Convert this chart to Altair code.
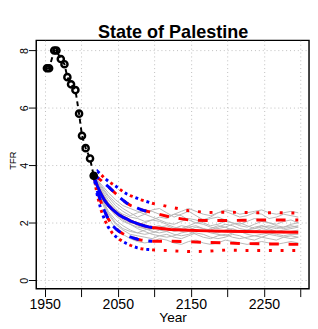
import altair as alt
import pandas as pd

# ---------------- data ----------------
title_text = "State of Palestine"

obs_years = [1953, 1956, 1963, 1966, 1972, 1977, 1981, 1986, 1992, 1997, 2001, 2006, 2012, 2017]
obs_tfr = [7.38, 7.38, 8.0, 8.0, 7.7, 7.52, 7.07, 6.82, 6.62, 5.8, 5.03, 4.6, 4.24, 3.64]

proj_years = [2017, 2022, 2027, 2032, 2037, 2042, 2047, 2052, 2057, 2062, 2067, 2072, 2077,
              2082, 2087, 2092, 2097, 2122, 2147, 2172, 2197, 2222, 2247, 2272, 2297]
median = [3.64, 3.28, 3.00, 2.78, 2.61, 2.48, 2.37, 2.27, 2.20, 2.14, 2.07, 2.02, 1.97,
          1.93, 1.89, 1.86, 1.84, 1.77, 1.74, 1.72, 1.71, 1.70, 1.69, 1.68, 1.67]
upper80 = [3.64, 3.58, 3.48, 3.37, 3.26, 3.14, 3.02, 2.90, 2.79, 2.69, 2.61, 2.56, 2.51,
           2.46, 2.42, 2.39, 2.36, 2.20, 2.10, 2.08, 2.08, 2.09, 2.10, 2.10, 2.10]
lower80 = [3.64, 3.10, 2.72, 2.40, 2.13, 1.93, 1.80, 1.70, 1.62, 1.56, 1.51, 1.47, 1.43,
           1.40, 1.38, 1.37, 1.36, 1.36, 1.34, 1.32, 1.30, 1.28, 1.27, 1.26, 1.25]
upper95 = [3.64, 3.80, 3.68, 3.55, 3.45, 3.36, 3.28, 3.18, 3.09, 3.01, 2.95, 2.90, 2.85,
           2.80, 2.76, 2.72, 2.68, 2.55, 2.42, 2.36, 2.37, 2.36, 2.35, 2.35, 2.34]
lower95 = [3.64, 2.95, 2.45, 2.10, 1.85, 1.66, 1.53, 1.43, 1.35, 1.28, 1.22, 1.17, 1.13,
           1.10, 1.08, 1.07, 1.06, 1.03, 1.00, 1.01, 1.05, 1.04, 1.04, 1.04, 1.04]
blue_n = 17  # blue projection runs to 2097

traj_years = list(range(2017, 2300, 10))
traj = [
    [3.64, 3.1, 2.7, 2.45, 2.3, 2.2, 2.15, 2.05, 2.1, 2.2, 2.15, 2.3, 2.25, 2.1, 2.0, 2.05, 2.15, 2.2, 2.1, 2.0, 1.95, 2.05, 2.15, 2.1, 2.0, 1.95, 2.05, 2.1, 2.0],
    [3.64, 2.9, 2.3, 1.95, 1.75, 1.6, 1.55, 1.5, 1.45, 1.55, 1.6, 1.5, 1.45, 1.55, 1.65, 1.6, 1.5, 1.45, 1.5, 1.6, 1.55, 1.45, 1.4, 1.5, 1.6, 1.55, 1.5, 1.45, 1.5],
    [3.64, 3.3, 2.95, 2.7, 2.5, 2.35, 2.2, 2.3, 2.45, 2.5, 2.35, 2.2, 2.3, 2.4, 2.25, 2.1, 2.2, 2.35, 2.4, 2.3, 2.2, 2.25, 2.35, 2.3, 2.15, 2.2, 2.3, 2.25, 2.2],
    [3.64, 2.8, 2.2, 1.8, 1.6, 1.45, 1.35, 1.3, 1.35, 1.45, 1.4, 1.3, 1.25, 1.35, 1.4, 1.3, 1.25, 1.3, 1.4, 1.35, 1.3, 1.25, 1.3, 1.35, 1.3, 1.25, 1.3, 1.35, 1.3],
    [3.64, 3.0, 2.55, 2.25, 2.05, 1.95, 1.85, 1.8, 1.75, 1.85, 1.9, 1.8, 1.7, 1.75, 1.85, 1.8, 1.7, 1.65, 1.75, 1.8, 1.7, 1.65, 1.7, 1.8, 1.75, 1.7, 1.65, 1.7, 1.75],
    [3.64, 3.2, 2.8, 2.5, 2.25, 2.05, 1.9, 1.8, 1.7, 1.65, 1.7, 1.8, 1.9, 1.85, 1.75, 1.7, 1.8, 1.9, 1.85, 1.75, 1.7, 1.75, 1.85, 1.9, 1.8, 1.7, 1.75, 1.8, 1.85],
    [3.64, 2.95, 2.4, 2.1, 1.9, 1.75, 1.65, 1.6, 1.65, 1.75, 1.7, 1.6, 1.55, 1.6, 1.7, 1.75, 1.65, 1.6, 1.55, 1.65, 1.7, 1.6, 1.55, 1.6, 1.65, 1.6, 1.55, 1.6, 1.6],
    [3.64, 3.35, 3.05, 2.8, 2.6, 2.5, 2.4, 2.3, 2.2, 2.1, 2.0, 1.95, 2.05, 2.15, 2.1, 2.0, 1.9, 1.95, 2.05, 2.0, 1.9, 1.85, 1.95, 2.05, 2.0, 1.9, 1.85, 1.95, 2.0],
    [3.64, 3.05, 2.6, 2.3, 2.1, 1.95, 1.8, 1.7, 1.6, 1.55, 1.5, 1.55, 1.65, 1.7, 1.6, 1.5, 1.45, 1.55, 1.6, 1.5, 1.45, 1.5, 1.55, 1.5, 1.45, 1.4, 1.5, 1.55, 1.5],
    [3.64, 3.15, 2.7, 2.4, 2.15, 2.0, 1.95, 2.0, 2.1, 2.05, 1.95, 1.85, 1.8, 1.9, 2.0, 1.95, 1.85, 1.8, 1.85, 1.95, 2.0, 1.9, 1.8, 1.85, 1.9, 1.85, 1.8, 1.85, 1.9],
    [3.64, 2.85, 2.35, 2.0, 1.8, 1.7, 1.65, 1.75, 1.85, 1.9, 1.8, 1.7, 1.75, 1.85, 1.9, 1.8, 1.75, 1.85, 1.95, 1.9, 1.8, 1.75, 1.8, 1.9, 1.85, 1.8, 1.85, 1.9, 1.85],
    [3.64, 3.25, 2.9, 2.6, 2.4, 2.25, 2.35, 2.45, 2.4, 2.3, 2.2, 2.3, 2.4, 2.5, 2.4, 2.3, 2.25, 2.35, 2.45, 2.4, 2.3, 2.35, 2.4, 2.45, 2.35, 2.3, 2.35, 2.4, 2.35],
]

x_ticks = [1950, 2000, 2050, 2100, 2150, 2200, 2250, 2300]
y_ticks = [0, 2, 4, 6, 8]

# ---------------- tables ----------------
traj_df = pd.DataFrame([
    {"traj": i, "year": y, "tfr": v}
    for i, row in enumerate(traj) for y, v in zip(traj_years, row)
])
obs_df = pd.DataFrame({"year": obs_years, "tfr": obs_tfr})
last_df = obs_df.tail(1)
title_df = pd.DataFrame({"t": [title_text]})


def band_df(n, *series):
    rows = []
    for name, vals in series:
        for y, v in zip(proj_years[:n], vals[:n]):
            rows.append({"bound": name, "year": y, "tfr": v})
    return pd.DataFrame(rows)


N = len(proj_years)
med_red = band_df(N, ("m", median))
pi80_red = band_df(N, ("u", upper80), ("l", lower80))
pi95_red = band_df(N, ("u", upper95), ("l", lower95))
med_blue = band_df(blue_n, ("m", median))
pi80_blue = band_df(blue_n, ("u", upper80), ("l", lower80))
pi95_blue = band_df(blue_n, ("u", upper95), ("l", lower95))

# ---------------- encodings ----------------
x_enc = alt.X(
    "year:Q",
    scale=alt.Scale(domain=[1938.4, 2311.7], nice=False, zero=False),
    axis=alt.Axis(
        values=x_ticks, title="Year", grid=True, gridDash=[1, 3], gridColor="#bdbdbd",
        domain=False, tickColor="black", tickSize=8, tickWidth=1,
        labelExpr="datum.value % 100 == 50 ? datum.label : ''",
        labelFontSize=14.5, labelColor="black", labelPadding=1, labelBaseline="top",
        labelFlush=False, labelOverlap=False, format="d",
        titleFontSize=14, titleFontWeight="normal", titleColor="black",
        titleBaseline="alphabetic", titleY=33.5,
    ),
)
y_enc = alt.Y(
    "tfr:Q",
    scale=alt.Scale(domain=[-0.295, 8.35], nice=False, zero=False),
    axis=alt.Axis(
        values=y_ticks, title="TFR", grid=True, gridDash=[1, 3], gridColor="#bdbdbd",
        domain=False, tickColor="black", tickSize=8, tickWidth=1,
        labelAngle=270, labelAlign="center", labelBaseline="alphabetic",
        labelFontSize=11, labelColor="black", labelPadding=1, labelFlush=False,
        titleFontSize=9.5, titleFontWeight="normal", titleColor="black",
        titleAngle=270, titleAlign="center", titleBaseline="middle",
        titleX=-24.5, titleY=123,
    ),
)


def lines(df, color, width, dash=None, offset=0):
    kw = dict(color=color, strokeWidth=width, strokeCap="butt")
    if dash:
        kw["strokeDash"] = dash
        kw["strokeDashOffset"] = offset
    return alt.Chart(df).mark_line(**kw).encode(x=x_enc, y=y_enc, detail="bound:N")


grey = alt.Chart(traj_df).mark_line(color="#b8b8b8", strokeWidth=1).encode(
    x=x_enc, y=y_enc, detail="traj:N"
)

red_med = lines(med_red, "#ff0000", 3)
red_80 = lines(pi80_red, "#ff0000", 3, [10, 10], 0)
red_95 = lines(pi95_red, "#ff0000", 3, [3, 9], 0)
blue_med = lines(med_blue, "#0000ff", 3)
blue_80 = lines(pi80_blue, "#0000ff", 3, [10, 10], 4)
blue_95 = lines(pi95_blue, "#0000ff", 3, [3, 9], 6)

obs_line = alt.Chart(obs_df).mark_line(color="black", strokeWidth=2, strokeDash=[5, 4]).encode(
    x=x_enc, y=y_enc
)
obs_pts = alt.Chart(obs_df).mark_point(
    shape="circle", filled=False, color="black", size=40, strokeWidth=2.5, opacity=1
).encode(x=x_enc, y=y_enc)
last_pt = alt.Chart(last_df).mark_point(
    shape="circle", filled=True, color="black", size=60, opacity=1
).encode(x=x_enc, y=y_enc)

title_mark = alt.Chart(title_df).mark_text(
    fontSize=18.5, fontWeight="bold", color="black", align="center",
    baseline="alphabetic", font="Liberation Sans",
).encode(text="t:N", x=alt.value(140.5), y=alt.value(-2))

chart = alt.layer(
    grey, red_med, red_80, red_95, blue_med, blue_80, blue_95, obs_line, obs_pts, last_pt,
    title_mark,
).properties(
    width=280,
    height=255,
    autosize=alt.AutoSizeParams(type="none"),
    padding={"left": 29, "top": 29, "right": 1, "bottom": 35},
).configure(
    font="Liberation Sans",
).configure_view(
    stroke="black", strokeWidth=1.5
)

chart.save("out.html", embed_options={"renderer": "svg", "actions": False})
